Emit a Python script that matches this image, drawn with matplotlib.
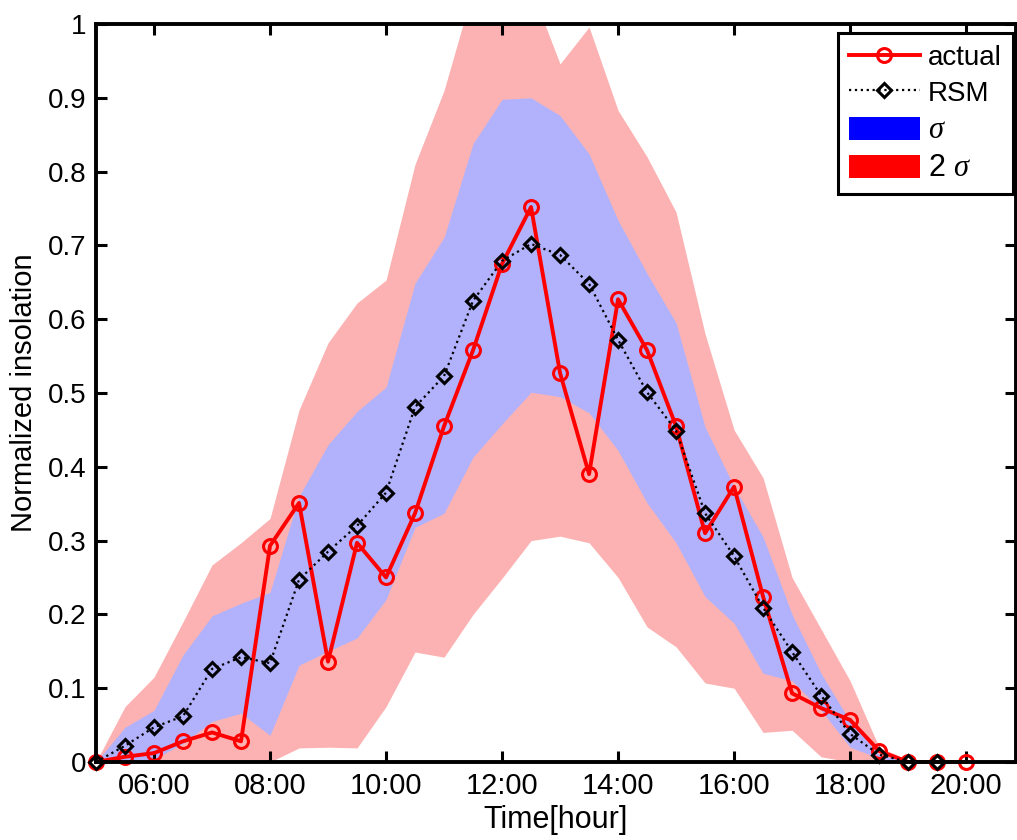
import matplotlib
matplotlib.use("Agg")
import matplotlib.pyplot as plt
from matplotlib.lines import Line2D
from matplotlib.patches import Patch
from matplotlib.ticker import FuncFormatter
import numpy as np

# half-hour time grid, 05:00 .. 20:00
hours = np.arange(5.0, 20.01, 0.5)

actual = [0.0, 0.007, 0.012, 0.028, 0.040, 0.028, 0.293, 0.351, 0.136, 0.297,
          0.250, 0.337, 0.455, 0.558, 0.675, 0.752, 0.527, 0.390, 0.627, 0.558,
          0.455, 0.310, 0.373, 0.224, 0.093, 0.073, 0.057, 0.015, 0.0, 0.0, 0.0]

# RSM estimate stops at 19:30
rsm = [0.0, 0.022, 0.047, 0.062, 0.126, 0.142, 0.134, 0.247, 0.285, 0.320,
       0.365, 0.481, 0.523, 0.625, 0.679, 0.702, 0.687, 0.648, 0.572, 0.501,
       0.449, 0.337, 0.279, 0.209, 0.149, 0.090, 0.038, 0.010, 0.0, 0.0]

upper_2s = [0.0, 0.075, 0.115, 0.190, 0.267, 0.297, 0.330, 0.477, 0.568, 0.622,
            0.653, 0.810, 0.910, 1.047, 1.100, 1.048, 0.946, 0.996, 0.883, 0.820,
            0.745, 0.580, 0.450, 0.385, 0.250, 0.180, 0.110, 0.020, 0.003, 0.0, 0.0]
upper_1s = [0.0, 0.047, 0.070, 0.145, 0.198, 0.215, 0.230, 0.360, 0.430, 0.475,
            0.508, 0.649, 0.711, 0.838, 0.898, 0.900, 0.876, 0.824, 0.734, 0.662,
            0.595, 0.454, 0.373, 0.305, 0.200, 0.120, 0.055, 0.010, 0.0, 0.0, 0.0]
lower_1s = [0.0, 0.0, 0.004, 0.025, 0.055, 0.066, 0.036, 0.131, 0.150, 0.168,
            0.220, 0.318, 0.337, 0.413, 0.458, 0.501, 0.495, 0.473, 0.422, 0.351,
            0.297, 0.224, 0.188, 0.120, 0.110, 0.070, 0.020, 0.005, 0.0, 0.0, 0.0]
lower_2s = [0.0, 0.0, 0.0, 0.0, 0.0, 0.0, 0.0, 0.019, 0.020, 0.019,
            0.075, 0.149, 0.142, 0.200, 0.249, 0.300, 0.306, 0.297, 0.250, 0.183,
            0.156, 0.107, 0.100, 0.040, 0.043, 0.007, 0.0, 0.0, 0.0, 0.0, 0.0]

xticks = [6, 8, 10, 12, 14, 16, 18, 20]
xticklabels = ["06:00", "08:00", "10:00", "12:00", "14:00", "16:00", "18:00", "20:00"]

plt.rcParams["font.family"] = ["Liberation Sans", "DejaVu Sans"]
plt.rcParams["mathtext.fontset"] = "custom"
plt.rcParams["mathtext.it"] = "Liberation Serif:italic"

pink = "#fcb2b2"
lavender = "#b2b2fc"

fig = plt.figure(figsize=(10.17, 8.4), dpi=100)
ax = fig.add_axes([0.0944, 0.0929, 0.9046, 0.8785])

ax.fill_between(hours, lower_2s, upper_2s, color=pink, linewidth=0, zorder=1)
ax.fill_between(hours, lower_1s, upper_1s, color=lavender, linewidth=0, zorder=1.1)

ax.plot(hours, actual, color="red", linewidth=2.8, marker="o", markersize=10,
        markerfacecolor="none", markeredgewidth=2.2, clip_on=False, zorder=2)
ax.plot(hours[:len(rsm)], rsm, color="black", linestyle=":", linewidth=1.6,
        marker="D", markersize=7.5, markerfacecolor="none", markeredgewidth=2.2,
        clip_on=False, zorder=2.1)

ax.set_xlim(5, 20.86)
ax.set_ylim(0, 1)
ax.set_xticks(xticks)
ax.set_xticklabels(xticklabels, fontsize=21)
ax.set_yticks(np.arange(0, 1.01, 0.1))
ax.yaxis.set_major_formatter(FuncFormatter(lambda v, p: "%g" % round(v, 1)))
ax.tick_params(direction="in", length=8, width=2.2, top=True, right=True)
ax.tick_params(axis="x", pad=7)
ax.tick_params(axis="y", pad=7)
for lbl in ax.get_yticklabels():
    lbl.set_fontsize(20)
for sp in ax.spines.values():
    sp.set_linewidth(2.8)

ax.set_xlabel("Time[hour]", fontsize=22, labelpad=4)
ax.set_ylabel("Normalized insolation", fontsize=21, labelpad=7)

handles = [
    Line2D([], [], color="red", linewidth=2.8, marker="o", markersize=10,
           markerfacecolor="none", markeredgewidth=2.2),
    Line2D([], [], color="black", linestyle=":", linewidth=1.6, marker="D",
           markersize=7.5, markerfacecolor="none", markeredgewidth=2.2),
    Patch(facecolor="blue", edgecolor="none"),
    Patch(facecolor="red", edgecolor="none"),
]
leg = ax.legend(handles, ["actual", "RSM", r"$\sigma$", r"2 $\sigma$"],
                loc="upper right", bbox_to_anchor=(0.997, 0.988), fontsize=20,
                frameon=True, fancybox=False, framealpha=1, edgecolor="black",
                handlelength=2.55, handleheight=0.9, handletextpad=0.3,
                labelspacing=0.3, borderpad=0.4, borderaxespad=0.0,
                numpoints=1)
leg.get_frame().set_linewidth(2.2)
for txt in leg.get_texts()[2:]:
    txt.set_fontsize(22)

fig.savefig("out.png", dpi=100)
